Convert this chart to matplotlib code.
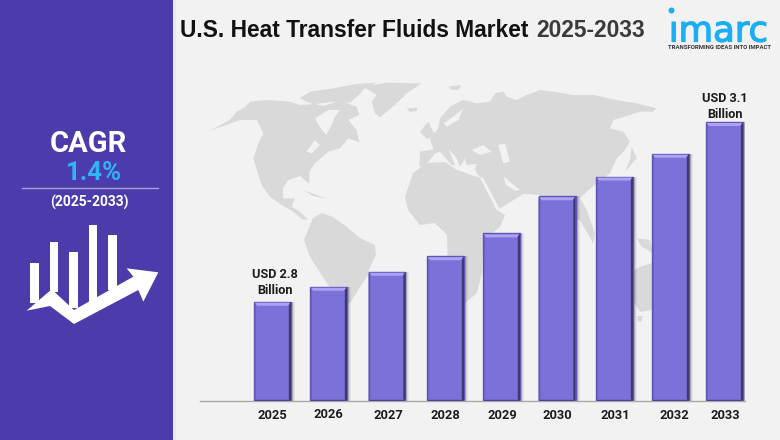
import matplotlib
matplotlib.use('Agg')
import matplotlib.pyplot as plt
import matplotlib.patheffects as pe
from matplotlib.patches import Polygon, Rectangle, Circle
from matplotlib.transforms import ScaledTranslation

# chart data
years = [2025, 2026, 2027, 2028, 2029, 2030, 2031, 2032, 2033]
values = [2.80, 2.825, 2.85, 2.876, 2.914, 2.976, 3.009, 3.047, 3.10]
label_years = {2025: 'USD 2.8\nBillion', 2033: 'USD 3.1\nBillion'}

# the bars and year labels in the picture are not quite evenly spaced (pixels)
nudge_px = [0, -0.5, 1.5, 3.5, 3, 2, 3, 2.5, 0]
tick_shift_px = [(0, 0), (0, 0.7), (1, -0.5), (0, -0.5), (0.5, 0), (0, 0), (0.5, 0), (3.5, 0), (0.5, 0)]

BG = '#f2f2f2'
PANEL = '#4b3bab'
LAND = '#d9d9d9'
W, H = 780, 440


def z4(pts):
    # outline points
    return [(200 + x / 3, 70 + y / 3) for x, y in pts]


def z5(pts):
    # outline points
    return [(440 + x / 3, 70 + y / 3) for x, y in pts]


land = [
    # north america
    z4([(30, 182), (90, 150), (110, 125), (135, 112), (150, 95), (200, 90), (270, 95), (300, 105), (345, 102),
        (370, 108), (420, 92), (470, 110), (478, 135), (445, 150), (470, 180), (478, 217), (445, 205), (420, 235),
        (385, 245), (345, 280), (328, 305), (328, 342), (300, 318), (265, 330), (248, 355), (250, 385), (285, 385),
        (275, 410), (300, 425), (325, 450), (305, 447), (280, 425), (245, 405), (210, 380), (185, 345), (172, 305),
        (160, 265), (175, 220), (190, 190), (170, 150), (120, 150)]),
    # arctic islands
    z4([(298, 85), (330, 65), (400, 55), (470, 42), (530, 38), (495, 55), (480, 72), (450, 98), (400, 95),
        (340, 103)]),
    # greenland, iceland, cuba, uk, svalbard
    z4([(490, 50), (560, 38), (665, 40), (620, 70), (590, 100), (540, 142), (525, 130), (515, 95), (530, 75)]),
    z4([(620, 116), (650, 112), (652, 122), (630, 126)]),
    z4([(310, 360), (350, 375), (385, 388), (340, 378)]),
    z4([(660, 185), (685, 155), (705, 197), (680, 207)]),
    z4([(745, 50), (785, 45), (775, 60), (755, 60)]),
    # south america
    [(313, 218), (322, 213), (333, 217), (347, 227), (360, 238), (375, 245), (376, 255), (370, 267), (368, 275),
     (350, 303), (345, 303), (335, 295), (323, 277), (310, 257), (304, 240)],
    # africa
    [(405, 197), (413, 173), (427, 163), (445, 162), (457, 170), (480, 178), (497, 210), (505, 215), (500, 227),
     (483, 240), (482, 273), (477, 293), (465, 303), (455, 305), (448, 270), (447, 235), (435, 223), (420, 225),
     (408, 210)],
    # eurasia
    z5([(-62, 290), (-60, 245), (-20, 238), (-30, 205), (-5, 175), (0, 145), (30, 110), (70, 90), (110, 100),
        (150, 95), (165, 70), (190, 65), (200, 80), (230, 90), (260, 75), (300, 60), (340, 65), (400, 75), (460, 75),
        (530, 90), (590, 100), (650, 115), (640, 125), (600, 125), (570, 135), (520, 150), (510, 175), (550, 185),
        (570, 215), (555, 240), (530, 265), (510, 310), (470, 340), (440, 365), (420, 385), (440, 420), (465, 490),
        (460, 520), (420, 450), (350, 450), (300, 375), (262, 372), (250, 372), (175, 418), (125, 330), (105, 300),
        (110, 282), (80, 285), (75, 265), (60, 290), (50, 265), (25, 235), (45, 285), (35, 285), (0, 245),
        (-15, 250), (-30, 270), (-50, 290)]),
    # japan, new guinea, australia, tasmania
    z5([(555, 305), (590, 265), (575, 230), (570, 270)]),
    z5([(590, 505), (630, 510), (640, 550), (605, 530)]),
    [(630, 272), (640, 267), (652, 263), (665, 290), (652, 310), (640, 312), (630, 295)],
    [(637, 316), (643, 316), (641, 322), (638, 321)],
]

water = [
    # black sea, caspian, persian gulf, red sea, baltic
    z5([(95, 240), (130, 225), (155, 245), (120, 255)]),
    z5([(175, 225), (195, 220), (210, 275), (190, 280)]),
    z5([(190, 318), (215, 340), (240, 360), (225, 362), (198, 345)]),
    z5([(120, 322), (130, 325), (178, 415), (170, 420)]),
    z5([(70, 115), (55, 150), (20, 170), (10, 160), (40, 140)]),
    # great lakes, hudson bay
    z4([(320, 245), (345, 210), (360, 225), (335, 250)]),
    z4([(345, 145), (385, 120), (420, 120), (405, 140), (395, 165), (378, 195), (355, 165)]),
]

icon_bars = [(91, 490, 116, 610), (150, 425, 175, 575), (208, 455, 233, 625), (267, 376, 292, 605),
             (325, 405, 350, 570)]
icon_arrow = [(80, 632), (155, 568), (222, 630), (400, 530), (380, 505), (475, 517), (430, 605), (415, 570),
              (222, 672), (150, 618)]

fig = plt.figure(figsize=(7.8, 4.4), dpi=100, facecolor=BG)

# background layer in pixel coordinates
bg = fig.add_axes([0, 0, 1, 1], zorder=0)
bg.set_xlim(0, W)
bg.set_ylim(H, 0)
bg.axis('off')
for pts in land:
    bg.add_patch(Polygon(pts, closed=True, fc=LAND, ec='none'))
for pts in water:
    bg.add_patch(Polygon(pts, closed=True, fc=BG, ec='none'))

bg.add_patch(Rectangle((0, 0), 173, H, fc=PANEL, ec='none'))
bg.add_patch(Rectangle((173, 0), 3, H, fc='#e9e9e9', ec='none'))
bg.plot([22, 158], [188, 188], color='#a89fdc', lw=1)
for x0, y0, x1, y1 in icon_bars:
    bg.add_patch(Rectangle((x0 / 3, 100 + y0 / 3), (x1 - x0) / 3, (y1 - y0) / 3, fc='white', ec='none'))
bg.add_patch(Polygon([(x / 3, 100 + y / 3) for x, y in icon_arrow], closed=True, fc='white', ec='none'))

bg.text(88, 143.5, 'CAGR', color='white', fontsize=21, fontweight='bold', family='Roboto', ha='center', va='center')
bg.text(94, 173, '1.4%', color='#2fb4f4', fontsize=18.5, fontweight='bold', family='Roboto', ha='center', va='center')
bg.text(89, 202, '(2025-2033)', color='white', fontsize=10, fontweight='bold', family='Roboto', ha='center', va='center')

# title
bg.text(180, 30.5, 'U.S. Heat Transfer Fluids Market', color='#111111', fontsize=16.4, fontweight='bold',
        family='Liberation Sans', ha='left', va='center')
bg.text(536, 30.5, '2025-2033', color='#3a3a3a', fontsize=16.4, fontweight='bold', family='Liberation Sans',
        ha='left', va='center')

# logo
bg.add_patch(Circle((671.5, 10.5), 3, fc='#19aef5', ec='none'))
bg.text(718.5, 41.5, '\u0131marc', color='#19aef5', fontsize=25.5, family='DejaVu Sans', ha='center', va='baseline',
        path_effects=[pe.withStroke(linewidth=0.9, foreground='#19aef5')])
bg.text(719, 47.8, 'TRANSFORMING IDEAS INTO IMPACT', color='#333333', fontsize=4.3, fontweight='bold',
        family='Roboto', ha='center', va='center')

# chart layer: baseline at y=401.3, 2.8 at y=301.7, 3.1 at y=122
px_per_year = 56.5
px_per_usd = 179.7 / 0.3
left_px, right_px, top_px, base_px = 200, 745, 60, 401.3
ax = fig.add_axes([left_px / W, 1 - base_px / H, (right_px - left_px) / W, (base_px - top_px) / H],
                  zorder=1, facecolor='none')
ax.set_xlim(2025 + (left_px - 272.5) / px_per_year, 2025 + (right_px - 272.5) / px_per_year)
y_low = 2.8 - (base_px - 301.7) / px_per_usd
ax.set_ylim(y_low, y_low + (base_px - top_px) / px_per_usd)

xs = [y + n / px_per_year for y, n in zip(years, nudge_px)]
bw = 37 / px_per_year
dx = 1 / px_per_year
dy = 1 / px_per_usd

# soft shadow on the right side
for off, a in [(4, 0.05), (3, 0.08), (2, 0.12)]:
    ax.bar([x + off * dx for x in xs], [v - y_low for v in values], bw, bottom=y_low, color='black', alpha=a, lw=0)

ax.bar(xs, [v - y_low for v in values], bw, bottom=y_low, color='#7c71d8', edgecolor='#5f55b5', lw=1, zorder=2)

for x, v in zip(xs, values):
    l, r = x - bw / 2, x + bw / 2
    # top bevel
    ax.add_patch(Polygon([(l + dx, v - dy), (r - dx, v - dy), (r - 3 * dx, v - 4 * dy), (l + 3 * dx, v - 4 * dy)],
                         closed=True, fc='#aca2f4', ec='none', zorder=3))
    # dark right edge and bottom edge
    ax.add_patch(Polygon([(r, v), (r, y_low), (r - 2.2 * dx, y_low + 2 * dy), (r - 2.2 * dx, v - 3.5 * dy)],
                         closed=True, fc='#3f3772', ec='none', zorder=3))
    ax.add_patch(Polygon([(l, y_low), (r, y_low), (r - 2.2 * dx, y_low + 1.5 * dy), (l + 1.5 * dx, y_low + 1.5 * dy)],
                         closed=True, fc='#4a4190', ec='none', zorder=3))
    ax.add_patch(Polygon([(l, v), (l + 1.5 * dx, v - 3.5 * dy), (l + 1.5 * dx, y_low + 2 * dy), (l, y_low)],
                         closed=True, fc='#5f55b5', ec='none', zorder=3))

for y, x, v in zip(years, xs, values):
    if y in label_years:
        ax.annotate(label_years[y], (x, v), xytext=(2 if y == 2025 else 0, 3.5 if y == 2025 else 0.5),
                    textcoords='offset points', ha='center', va='bottom', fontsize=9.2, fontweight='bold',
                    family='Roboto', color='#1c1c1c', linespacing=1.33)

for s in ['top', 'left', 'right']:
    ax.spines[s].set_visible(False)
ax.spines['bottom'].set_color('#aaaaaa')
ax.spines['bottom'].set_linewidth(1)
ax.set_yticks([])
ax.set_xticks(xs)
ax.set_xticklabels([str(y) for y in years], fontsize=9.3, fontweight='bold', family='Roboto', color='#1c1c1c')
ax.tick_params(axis='x', length=0, pad=5.5)
# shift is (right, up) in pixels
for lab, (sx, sy) in zip(ax.get_xticklabels(), tick_shift_px):
    lab.set_transform(lab.get_transform() + ScaledTranslation(sx / 100, sy / 100, fig.dpi_scale_trans))

fig.savefig('out.png', dpi=100, facecolor=BG)
